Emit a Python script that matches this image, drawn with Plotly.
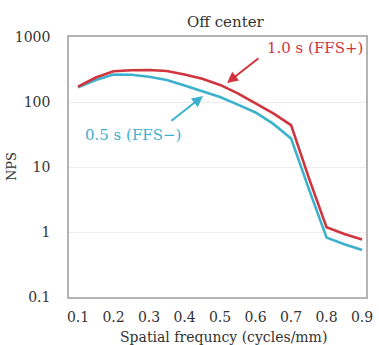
import plotly.graph_objects as go

# Spatial frequency sampling (cycles/mm)
freq = [0.10, 0.15, 0.20, 0.25, 0.30, 0.35, 0.40, 0.45, 0.50,
        0.55, 0.60, 0.65, 0.70, 0.75, 0.80, 0.85, 0.90]

# NPS, 1.0 s scan with FFS
nps_ffs_on = [172, 238, 298, 308, 310, 300, 265, 228, 183,
              136, 95, 67, 44, 6.8, 1.18, 0.93, 0.77]

# NPS, 0.5 s scan without FFS
nps_ffs_off = [168, 218, 265, 262, 245, 218, 180, 148, 119,
               91, 69, 46, 27.5, 4.6, 0.82, 0.65, 0.53]

x_ticks = [0.1, 0.2, 0.3, 0.4, 0.5, 0.6, 0.7, 0.8, 0.9]
y_ticks = [0.1, 1, 10, 100, 1000]

RED = "#d0343f"
CYAN = "#3cb1cd"
TEXT = "#333333"
FONT = "DejaVu Serif"
INVISIBLE = "rgba(0,0,0,0)"

# plot box in pixels
L, R, T, B = 69, 366, 37, 297
W, H = R - L, B - T

def px(xp, yp):
    """Pixel position -> paper coordinates."""
    return (xp - L) / W, (B - yp) / H

fig = go.Figure()
fig.add_trace(go.Scatter(x=freq, y=nps_ffs_off, mode="lines",
                         line=dict(color=CYAN, width=2.6), showlegend=False))
fig.add_trace(go.Scatter(x=freq, y=nps_ffs_on, mode="lines",
                         line=dict(color=RED, width=2.6), showlegend=False))

fig.update_layout(
    width=379, height=345,
    margin=dict(l=L, r=379 - R, t=T, b=345 - B),
    paper_bgcolor="white", plot_bgcolor="white",
    font=dict(family=FONT, size=14, color=TEXT),
    xaxis=dict(range=[0.0746, 0.911], tickvals=x_ticks,
               ticktext=[f"{v:.1f}" for v in x_ticks],
               showgrid=False, zeroline=False, automargin=False,
               showline=True, linecolor="#b4b4b4", linewidth=1.5, mirror=True,
               ticks="outside", ticklen=6, tickcolor=INVISIBLE,
               tickfont=dict(size=14)),
    yaxis=dict(type="log", range=[-1, 3], tickvals=y_ticks,
               ticktext=["0.1", "1", "10", "100", "1000"],
               showgrid=True, gridcolor="#ececec", gridwidth=1,
               zeroline=False, automargin=False,
               showline=True, linecolor="#b4b4b4", linewidth=1.5, mirror=True,
               ticks="outside", ticklen=14, tickcolor=INVISIBLE,
               tickfont=dict(size=14)),
)

def label(text, xp, yp, size, color=TEXT, angle=0):
    x, y = px(xp, yp)
    fig.add_annotation(text=text, xref="paper", yref="paper", x=x, y=y,
                       showarrow=False, textangle=angle,
                       font=dict(size=size, color=color),
                       xanchor="center", yanchor="middle")

def pointer(xp, yp, ax, ay, color):
    x, y = px(xp, yp)
    fig.add_annotation(text="", xref="paper", yref="paper", x=x, y=y,
                       ax=ax, ay=ay, showarrow=True, arrowhead=2,
                       arrowsize=1.1, arrowwidth=2, arrowcolor=color)

# Titles
label("Off center", 226, 22, 15)
label("Spatial frequncy (cycles/mm)", 223, 337, 14)
label("NPS", 11, 167, 13, angle=-90)

# Series labels with pointer arrows
label("1.0 s (FFS+)", 315, 48, 15, RED)
pointer(227, 83, 33, -26, RED)
label("0.5 s (FFS\u2212)", 133, 135, 15, CYAN)
pointer(203, 96, -33, 26, CYAN)

fig.write_html("out.html")
